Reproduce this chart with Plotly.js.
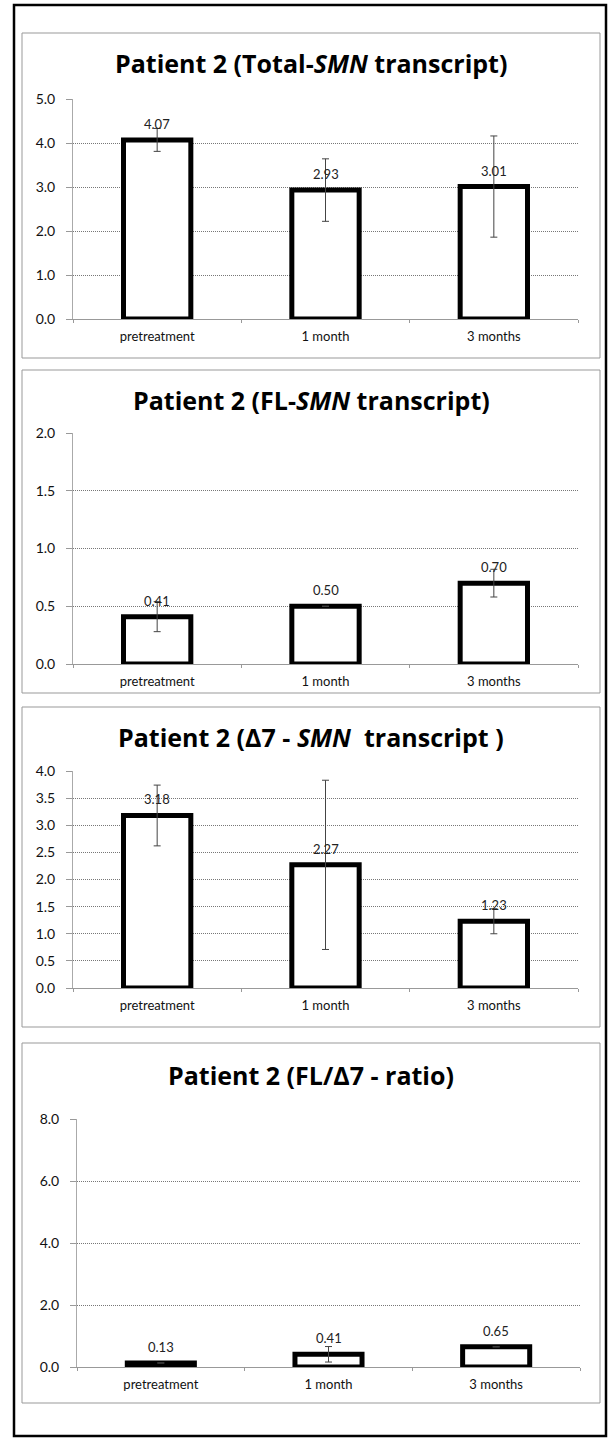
<!DOCTYPE html>
<html>
<head>
<meta charset="utf-8">
<script src="https://cdn.plot.ly/plotly-3.0.1.min.js"></script>
<style>html,body{margin:0;padding:0;background:#fff;}#chart{width:610px;height:1439px;}</style>
</head>
<body>
<div id="chart"></div>
<script>
// ---- data ----
const categories = ['pretreatment', '1 month', '3 months'];
const totalSMN = [4.07, 2.93, 3.01];
const totalSMNErr = [0.26, 0.71, 1.15];
const flSMN = [0.41, 0.50, 0.70];
const flSMNErr = [0.13, 0, 0.12];
const d7SMN = [3.18, 2.27, 1.23];
const d7SMNErr = [0.56, 1.56, 0.23];
const flD7Ratio = [0.13, 0.41, 0.65];
const flD7RatioErr = [0, 0.25, 0];
const panelTitles = [
  'Patient 2 (Total-<i>SMN</i> transcript)',
  'Patient 2 (FL-<i>SMN</i> transcript)',
  'Patient 2 (\u03947 - <i>SMN</i>\u00a0 transcript )',
  'Patient 2 (FL/\u03947 - ratio)'
];
const yRanges = [[0, 5], [0, 2], [0, 4], [0, 8]];
const yDticks = [1, 0.5, 0.5, 2];

// ---- layout geometry (px) ----
const W = 610, H = 1439;
const panels = [
  {box: [22, 33, 600, 358], plot: [73, 99, 578, 319], titleY: 63},
  {box: [22, 370, 600, 693], plot: [73, 433, 578, 664], titleY: 400},
  {box: [22, 707, 600, 1027], plot: [73, 771, 578, 988], titleY: 737},
  {box: [22, 1043, 600, 1403], plot: [77, 1119, 580, 1367], titleY: 1075}
];
const fx = p => p / W;
const fy = p => 1 - p / H;

const series = [
  [totalSMN, totalSMNErr],
  [flSMN, flSMNErr],
  [d7SMN, d7SMNErr],
  [flD7Ratio, flD7RatioErr]
];

const FONT = 'Lato, "Open Sans", sans-serif';
const TFONT = '"Open Sans", Lato, sans-serif';
const traces = [];
const layout = {
  width: W, height: H,
  margin: {l: 0, r: 0, t: 0, b: 0},
  paper_bgcolor: '#fff', plot_bgcolor: '#fff',
  showlegend: false,
  font: {family: FONT, color: '#222'},
  shapes: [], annotations: []
};

series.forEach((s, i) => {
  const n = i === 0 ? '' : String(i + 1);
  traces.push({
    type: 'bar', x: categories, y: s[0],
    xaxis: 'x' + n, yaxis: 'y' + n,
    width: 0.4,
    marker: {color: '#ffffff', line: {color: '#000000', width: 5}},
    error_y: {type: 'data', array: s[1], visible: true, color: '#444', thickness: 1, width: 3.5},
    hoverinfo: 'none'
  });
  // data labels
  s[0].forEach((v, k) => {
    layout.annotations.push({
      xref: 'x' + n, yref: 'y' + n, x: categories[k], y: v,
      yshift: 16, xanchor: 'center', yanchor: 'middle', showarrow: false,
      text: v.toFixed(2),
      font: {family: FONT, size: 13, color: '#222'}
    });
  });
  const p = panels[i];
  layout['xaxis' + n] = {
    domain: [fx(p.plot[0]), fx(p.plot[2])],
    anchor: 'y' + n,
    type: 'category',
    showline: true, linecolor: '#999', linewidth: 1,
    ticks: 'outside', tickson: 'boundaries', ticklen: 3, tickcolor: '#999',
    showgrid: false, zeroline: false,
    tickfont: {family: FONT, size: 13, color: '#111'},
    ticklabelstandoff: 5,
    fixedrange: true
  };
  layout['yaxis' + n] = {
    domain: [fy(p.plot[3]), fy(p.plot[1])],
    anchor: 'x' + n,
    range: yRanges[i], dtick: yDticks[i], tick0: 0,
    tickformat: '.1f',
    showline: true, linecolor: '#aaa', linewidth: 1,
    showgrid: true, gridcolor: '#777', gridwidth: 1, griddash: '1px,1px',
    ticks: 'outside', ticklen: 6, tickcolor: '#999',
    zeroline: false,
    tickfont: {family: FONT, size: 14, color: '#111'},
    ticklabelstandoff: 8,
    fixedrange: true
  };
  layout.shapes.push({
    type: 'rect', xref: 'paper', yref: 'paper',
    x0: fx(p.box[0]), x1: fx(p.box[2]), y0: fy(p.box[1]), y1: fy(p.box[3]),
    line: {color: '#999', width: 1}, fillcolor: 'rgba(0,0,0,0)', layer: 'below'
  });
  layout.annotations.push({
    xref: 'paper', yref: 'paper', x: fx((p.box[0] + p.box[2]) / 2), y: fy(p.titleY),
    xanchor: 'center', yanchor: 'middle', showarrow: false,
    text: '<b>' + panelTitles[i] + '</b>',
    font: {family: TFONT, size: 25, color: '#000'}
  });
});

layout.shapes.push({
  type: 'rect', xref: 'paper', yref: 'paper',
  x0: fx(14), x1: fx(606), y0: fy(1436), y1: fy(5),
  line: {color: '#000', width: 2.5}, fillcolor: 'rgba(0,0,0,0)'
});

Plotly.newPlot('chart', traces, layout, {staticPlot: true, displayModeBar: false});
</script>
</body>
</html>
